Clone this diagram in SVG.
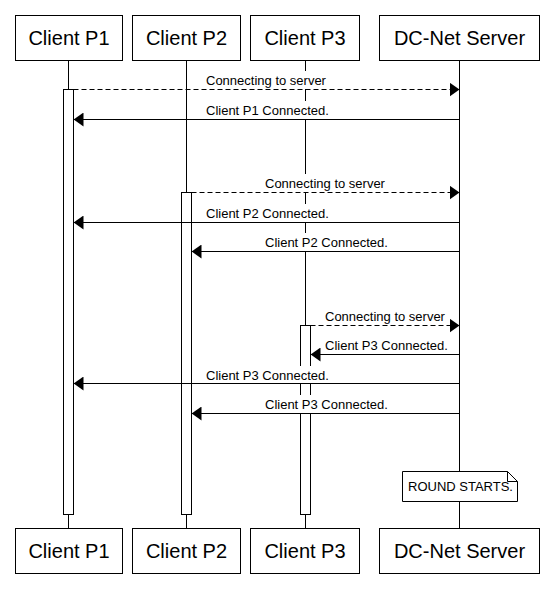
<svg xmlns="http://www.w3.org/2000/svg" width="554" height="597" viewBox="0 0 554 597">
<style>
.box{fill:#fff;stroke:#000;stroke-width:1}
.act{fill:#fff;stroke:#000;stroke-width:1}
.life{stroke:#000;stroke-width:1}
.msg{stroke:#000;stroke-width:1;fill:none}
.dash{stroke-dasharray:5,3}
.bg{fill:#fff;stroke:none}
.title{font-family:"Liberation Sans",Arial,sans-serif;font-size:20px;text-anchor:middle;fill:#000}
.lbl{font-family:"Liberation Sans",Arial,sans-serif;font-size:13px;fill:#000}
</style>
<defs>
<marker id="ah" markerWidth="10" markerHeight="14" refX="10" refY="7" orient="auto" markerUnits="userSpaceOnUse">
<path d="M0,0 L10,7 L0,14 Z" fill="#000"/>
</marker>
</defs>
<rect width="554" height="597" fill="#fff"/>
<g id="lifelines">
<line class="life" x1="68.5" y1="60" x2="68.5" y2="528"/>
<line class="life" x1="186.5" y1="60" x2="186.5" y2="528"/>
<line class="life" x1="305.5" y1="60" x2="305.5" y2="528"/>
<line class="life" x1="459.5" y1="60" x2="459.5" y2="528"/>
</g>
<g id="activations">
<rect class="act" x="63.5" y="89.5" width="10" height="425"/>
<rect class="act" x="181.5" y="192.5" width="10" height="322"/>
<rect class="act" x="300.5" y="325.5" width="10" height="189"/>
</g>
<g id="node-p1">
<rect class="box" x="15.5" y="15.5" width="107" height="45"/>
<text class="title" x="69" y="45">Client P1</text>
<rect class="box" x="15.5" y="528.5" width="107" height="45"/>
<text class="title" x="69" y="558">Client P1</text>
</g>
<g id="node-p2">
<rect class="box" x="132.5" y="15.5" width="108" height="45"/>
<text class="title" x="186.5" y="45">Client P2</text>
<rect class="box" x="132.5" y="528.5" width="108" height="45"/>
<text class="title" x="186.5" y="558">Client P2</text>
</g>
<g id="node-p3">
<rect class="box" x="250.5" y="15.5" width="109" height="45"/>
<text class="title" x="305" y="45">Client P3</text>
<rect class="box" x="250.5" y="528.5" width="109" height="45"/>
<text class="title" x="305" y="558">Client P3</text>
</g>
<g id="node-server">
<rect class="box" x="379.5" y="15.5" width="160" height="45"/>
<text class="title" x="459.5" y="45">DC-Net Server</text>
<rect class="box" x="379.5" y="528.5" width="160" height="45"/>
<text class="title" x="459.5" y="558">DC-Net Server</text>
</g>
<g id="connectors">
<rect class="bg" x="204" y="71" width="125" height="18"/>
<text class="lbl" x="206" y="85">Connecting to server</text>
<line class="msg dash" x1="73.5" y1="89.5" x2="459.5" y2="89.5" marker-end="url(#ah)"/>
<rect class="bg" x="204" y="101" width="128" height="18"/>
<text class="lbl" x="206" y="115">Client P1 Connected.</text>
<line class="msg" x1="459.5" y1="119.5" x2="73.5" y2="119.5" marker-end="url(#ah)"/>
<rect class="bg" x="263" y="174" width="125" height="18"/>
<text class="lbl" x="265" y="188">Connecting to server</text>
<line class="msg dash" x1="191.5" y1="192.5" x2="459.5" y2="192.5" marker-end="url(#ah)"/>
<rect class="bg" x="204" y="204" width="128" height="18"/>
<text class="lbl" x="206" y="218">Client P2 Connected.</text>
<line class="msg" x1="459.5" y1="222.5" x2="73.5" y2="222.5" marker-end="url(#ah)"/>
<rect class="bg" x="263" y="233" width="128" height="18"/>
<text class="lbl" x="265" y="247">Client P2 Connected.</text>
<line class="msg" x1="459.5" y1="251.5" x2="191.5" y2="251.5" marker-end="url(#ah)"/>
<rect class="bg" x="323" y="307" width="125" height="18"/>
<text class="lbl" x="325" y="321">Connecting to server</text>
<line class="msg dash" x1="310.5" y1="325.5" x2="459.5" y2="325.5" marker-end="url(#ah)"/>
<rect class="bg" x="323" y="336" width="128" height="18"/>
<text class="lbl" x="325" y="350">Client P3 Connected.</text>
<line class="msg" x1="459.5" y1="354.5" x2="310.5" y2="354.5" marker-end="url(#ah)"/>
<rect class="bg" x="204" y="366" width="128" height="17"/>
<text class="lbl" x="206" y="380">Client P3 Connected.</text>
<line class="msg" x1="459.5" y1="383.5" x2="73.5" y2="383.5" marker-end="url(#ah)"/>
<rect class="bg" x="263" y="395" width="128" height="18"/>
<text class="lbl" x="265" y="409">Client P3 Connected.</text>
<line class="msg" x1="459.5" y1="413.5" x2="191.5" y2="413.5" marker-end="url(#ah)"/>
</g>
<g id="note">
<path d="M402.5,471.5 H507.5 L517.5,481.5 V501.5 H402.5 Z" fill="#fff" stroke="#000" stroke-width="1"/>
<path d="M507.5,471.5 V481.5 H517.5" fill="none" stroke="#000" stroke-width="1"/>
<text class="lbl" x="408" y="491">ROUND STARTS.</text>
</g>
</svg>
